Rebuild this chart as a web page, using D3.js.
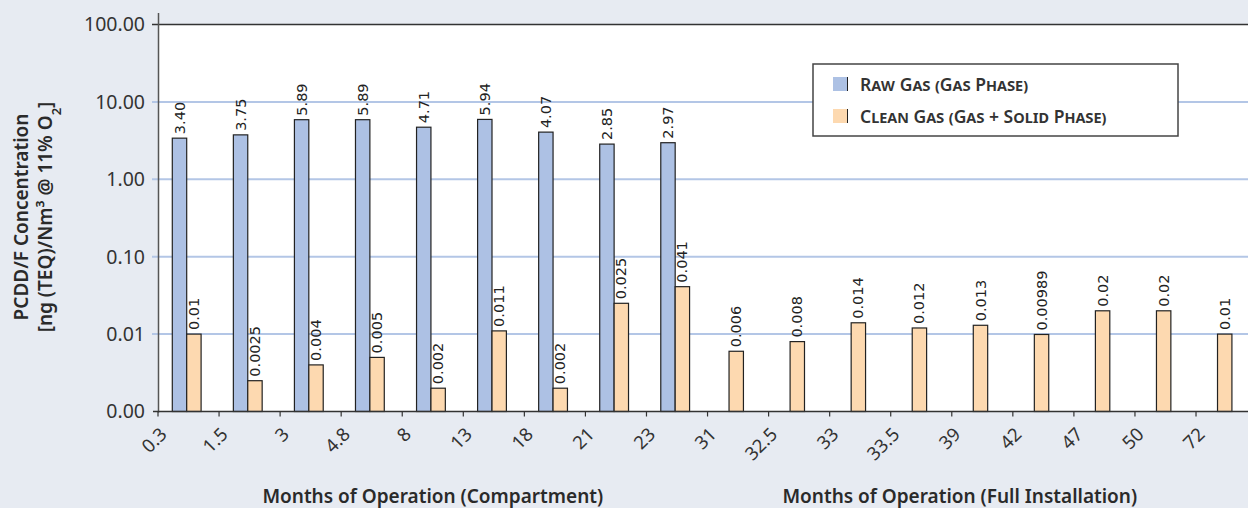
<!DOCTYPE html>
<html>
<head>
<meta charset="utf-8">
<title>PCDD/F Concentration</title>
<script src="https://cdn.jsdelivr.net/npm/d3@7/dist/d3.min.js"></script>
<style>
  html, body { margin: 0; padding: 0; background: #e7ebf2; }
  svg { display: block; font-family: "Noto Sans", sans-serif; }
  .tick-y { font-size: 19.5px; fill: #333; }
  .tick-x { font-size: 18.5px; fill: #333; }
  .val { font-family: "DejaVu Sans", sans-serif; font-size: 14.5px; fill: #222; }
  .title { font-size: 19px; font-weight: 600; fill: #2a2a2a; }
  .legend text { font-size: 17.5px; font-weight: 600; fill: #333; font-variant: small-caps; }
</style>
</head>
<body>
<div id="chart"></div>
<script>
// data
const months = ["0.3", "1.5", "3", "4.8", "8", "13", "18", "21", "23",
                "31", "32.5", "33", "33.5", "39", "42", "47", "50", "72"];
const rawGas = [3.40, 3.75, 5.89, 5.89, 4.71, 5.94, 4.07, 2.85, 2.97,
                null, null, null, null, null, null, null, null, null];
const cleanGas = [0.01, 0.0025, 0.004, 0.005, 0.002, 0.011, 0.002, 0.025, 0.041,
                  0.006, 0.008, 0.014, 0.012, 0.013, 0.00989, 0.02, 0.02, 0.01];
const yTicks = [0.001, 0.01, 0.1, 1, 10, 100];
const seriesNames = ["Raw Gas (Gas Phase)", "Clean Gas (Gas + Solid Phase)"];
const sections = [
  { label: "Months of Operation (Compartment)", first: 0, last: 8 },
  { label: "Months of Operation (Full Installation)", first: 9, last: 17 }
];

const W = 1248, H = 508;
const plotL = 158, plotT = 24.5, plotB = 411.5;
const colors = { raw: "#adc1e4", clean: "#fdd9b0" };

const svg = d3.select("#chart").append("svg")
  .attr("width", W).attr("height", H);

const x0 = d3.scaleBand().domain(months).range([plotL, plotL + 18 * 61.06]).padding(0);
const y = d3.scaleLog().domain([0.001, 100]).range([plotB, plotT]);
const bw = 14.4;
const cx = m => x0(m) + x0.bandwidth() * 0.47;

// plot background
svg.append("rect")
  .attr("x", plotL).attr("y", plotT)
  .attr("width", W - plotL).attr("height", plotB - plotT)
  .attr("fill", "#fff");

// gridlines
svg.append("g").selectAll("line")
  .data(yTicks.slice(1, -1))
  .join("line")
  .attr("x1", plotL - 6).attr("x2", W)
  .attr("y1", d => y(d)).attr("y2", d => y(d))
  .attr("stroke", "#b3c6e6").attr("stroke-width", 2);

// top line
svg.append("line")
  .attr("x1", plotL - 6).attr("x2", W)
  .attr("y1", y(100)).attr("y2", y(100))
  .attr("stroke", "#333").attr("stroke-width", 1.5);

// y tick labels
svg.append("g").selectAll("text")
  .data(yTicks)
  .join("text")
  .attr("class", "tick-y")
  .attr("x", plotL - 13).attr("y", d => y(d))
  .attr("dy", "0.35em")
  .attr("text-anchor", "end")
  .text(d => d3.format(".2f")(d));

// bars
const rawData = months.map((m, i) => ({ m, v: rawGas[i] })).filter(d => d.v != null);
const cleanData = months.map((m, i) => ({ m, v: cleanGas[i], paired: rawGas[i] != null }));

svg.append("g").selectAll("rect")
  .data(rawData)
  .join("rect")
  .attr("x", d => cx(d.m) - bw).attr("width", bw)
  .attr("y", d => y(d.v)).attr("height", d => plotB - y(d.v))
  .attr("fill", colors.raw).attr("stroke", "#222").attr("stroke-width", 1.2);

svg.append("g").selectAll("rect")
  .data(cleanData)
  .join("rect")
  .attr("x", d => d.paired ? cx(d.m) : cx(d.m) - bw / 2).attr("width", bw)
  .attr("y", d => y(d.v)).attr("height", d => plotB - y(d.v))
  .attr("fill", colors.clean).attr("stroke", "#222").attr("stroke-width", 1.2);

// value labels
function valueLabel(sel, xf, fmt) {
  sel.join("text")
    .attr("class", "val")
    .attr("transform", d => `translate(${xf(d)},${y(d.v) - 4}) rotate(-90)`)
    .attr("dy", "0.35em")
    .text(d => fmt(d.v));
}
valueLabel(svg.append("g").selectAll("text").data(rawData), d => cx(d.m) - bw / 2, d3.format(".2f"));
valueLabel(svg.append("g").selectAll("text").data(cleanData),
  d => d.paired ? cx(d.m) + bw / 2 : cx(d.m), v => String(v));

// axes lines
svg.append("line")
  .attr("x1", plotL + 0.5).attr("x2", plotL + 0.5)
  .attr("y1", 13).attr("y2", plotB + 1)
  .attr("stroke", "#555").attr("stroke-width", 1.5);
svg.append("line")
  .attr("x1", plotL - 5).attr("x2", W)
  .attr("y1", plotB).attr("y2", plotB)
  .attr("stroke", "#333").attr("stroke-width", 1.5);

// x ticks at band boundaries
svg.append("g").selectAll("line")
  .data(months)
  .join("line")
  .attr("x1", d => x0(d)).attr("x2", d => x0(d))
  .attr("y1", plotB).attr("y2", plotB + 5)
  .attr("stroke", "#333").attr("stroke-width", 1.2);

svg.append("g").selectAll("text")
  .data(months)
  .join("text")
  .attr("class", "tick-x")
  .attr("transform", d => `translate(${x0(d) + 10},${plotB + 24}) rotate(-45)`)
  .attr("text-anchor", "end")
  .text(d => d);

// section titles
svg.append("g").selectAll("text")
  .data(sections)
  .join("text")
  .attr("class", "title")
  .attr("x", d => (x0(months[d.first]) + Math.min(W, x0(months[d.last]) + x0.bandwidth())) / 2 - (d.first ? 18 : 0))
  .attr("y", 503)
  .attr("text-anchor", "middle")
  .text(d => d.label);

// y axis title
const yt = svg.append("text")
  .attr("class", "title")
  .attr("transform", "translate(28,217) rotate(-90)")
  .attr("text-anchor", "middle");
yt.append("tspan").attr("x", 0).attr("dy", 0).text("PCDD/F Concentration");
const l2 = yt.append("tspan").attr("x", 0).attr("dy", "1.28em");
l2.append("tspan").text("[ng (TEQ)/Nm³ @ 11% O");
l2.append("tspan").attr("baseline-shift", "sub").attr("font-size", "13px").text("2");
l2.append("tspan").text("]");

// legend
const lg = svg.append("g").attr("class", "legend").attr("transform", "translate(813,64)");
lg.append("rect").attr("width", 365).attr("height", 72)
  .attr("fill", "#fff").attr("stroke", "#444").attr("stroke-width", 1.5);
const items = lg.selectAll("g.item")
  .data([{ name: seriesNames[0], c: colors.raw }, { name: seriesNames[1], c: colors.clean }])
  .join("g").attr("class", "item")
  .attr("transform", (d, i) => `translate(20,${13 + i * 32})`);
items.append("rect").attr("width", 14).attr("height", 14).attr("fill", d => d.c);
items.append("line").attr("x1", 14.5).attr("x2", 14.5).attr("y1", 0).attr("y2", 14)
  .attr("stroke", "#222").attr("stroke-width", 1);
items.append("text").attr("x", 27).attr("y", 14).text(d => d.name);
</script>
</body>
</html>
